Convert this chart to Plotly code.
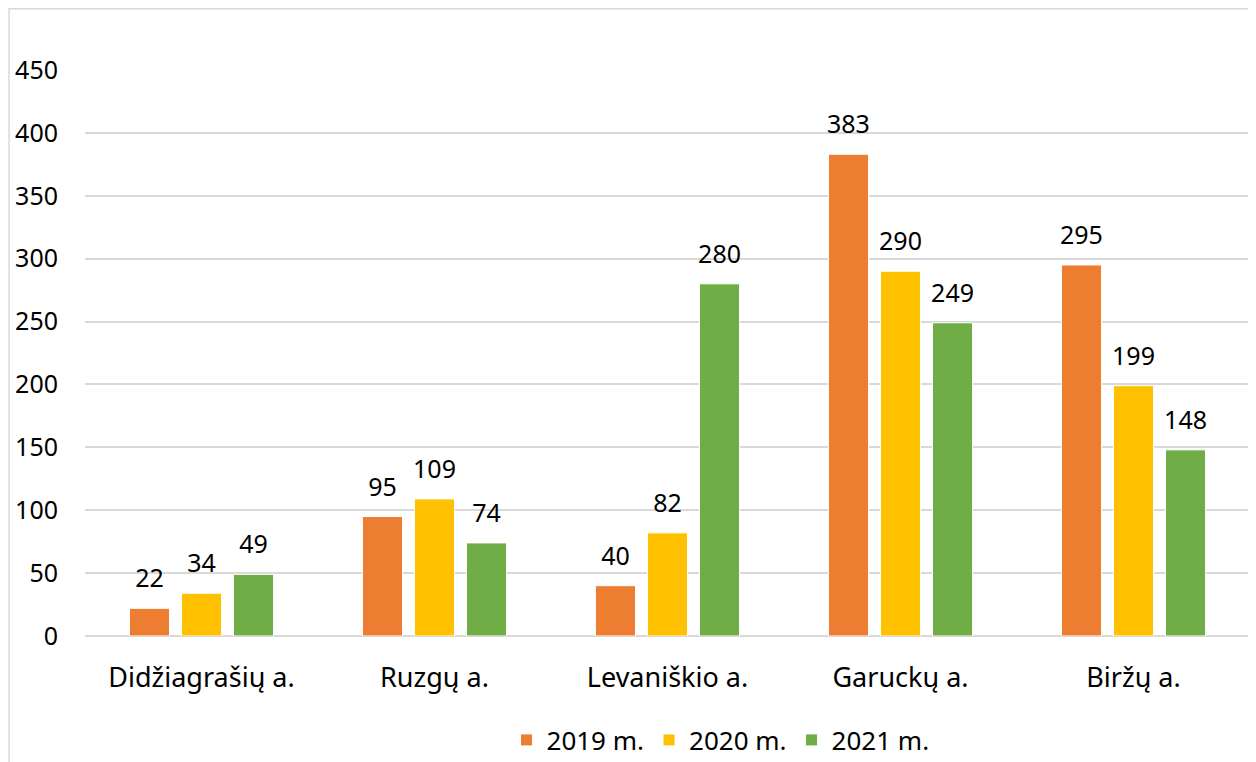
import plotly.graph_objects as go

categories = ["Didžiagrašių a.", "Ruzgų a.", "Levaniškio a.", "Garuckų a.", "Biržų a."]
series_names = ["2019 m.", "2020 m.", "2021 m."]
v2019 = [22, 95, 40, 383, 295]
v2020 = [34, 109, 82, 290, 199]
v2021 = [49, 74, 280, 249, 148]
colors = ["#ED7D31", "#FFC000", "#70AD47"]
y_ticks = [0, 50, 100, 150, 200, 250, 300, 350, 400, 450]

FONT = "Noto Sans, Open Sans, sans-serif"
FS = 25
GAP = 0.33

fig = go.Figure()
for i, (name, vals, col) in enumerate(zip(series_names, [v2019, v2020, v2021], colors)):
    fig.add_trace(go.Bar(
        x=categories, y=vals, name=name,
        marker=dict(color=col, line=dict(color="white", width=1)),
        offsetgroup=str(i), alignmentgroup="a",
    ))
for i, (name, vals) in enumerate(zip(series_names, [v2019, v2020, v2021])):
    fig.add_trace(go.Scatter(
        x=categories, y=vals, mode="markers+text", showlegend=False,
        marker=dict(size=22, opacity=0),
        text=[str(v) for v in vals], textposition="top center",
        textfont=dict(size=FS, color="#000000", family=FONT),
        offsetgroup=str(i), alignmentgroup="a",
        cliponaxis=False, hoverinfo="skip",
    ))

W, H = 1248, 754
fig.update_layout(
    width=W, height=H,
    margin=dict(l=77, r=6, t=62, b=126),
    paper_bgcolor="white", plot_bgcolor="white",
    barmode="group", bargap=GAP, bargroupgap=0.23,
    scattermode="group", scattergap=GAP,
    font=dict(family=FONT, size=FS, color="#000000"),
    showlegend=True,
    legend=dict(orientation="h", x=0.5455, xanchor="center",
                yref="container", y=(H - 732) / H, yanchor="middle",
                font=dict(size=26, family=FONT), itemwidth=30,
                traceorder="normal"),
    xaxis=dict(showgrid=False, showline=False, ticks="", tickfont=dict(size=27),
               ticklabelstandoff=23, automargin=False),
    yaxis=dict(range=[0, 450], tickvals=y_ticks, showgrid=True, gridcolor="#D9D9D9",
               gridwidth=1.5, zeroline=True, zerolinecolor="#D9D9D9", zerolinewidth=1.5,
               showline=False, ticks="", tickfont=dict(size=FS), ticklabelstandoff=26,
               automargin=False),
)

fig.add_shape(type="rect", xref="paper", yref="paper",
              x0=-0.0652, x1=0.9995, y0=-0.25, y1=1.108,
              line=dict(color="#D9D9D9", width=1.5), fillcolor="rgba(0,0,0,0)", layer="above")

fig.write_html("out.html")
